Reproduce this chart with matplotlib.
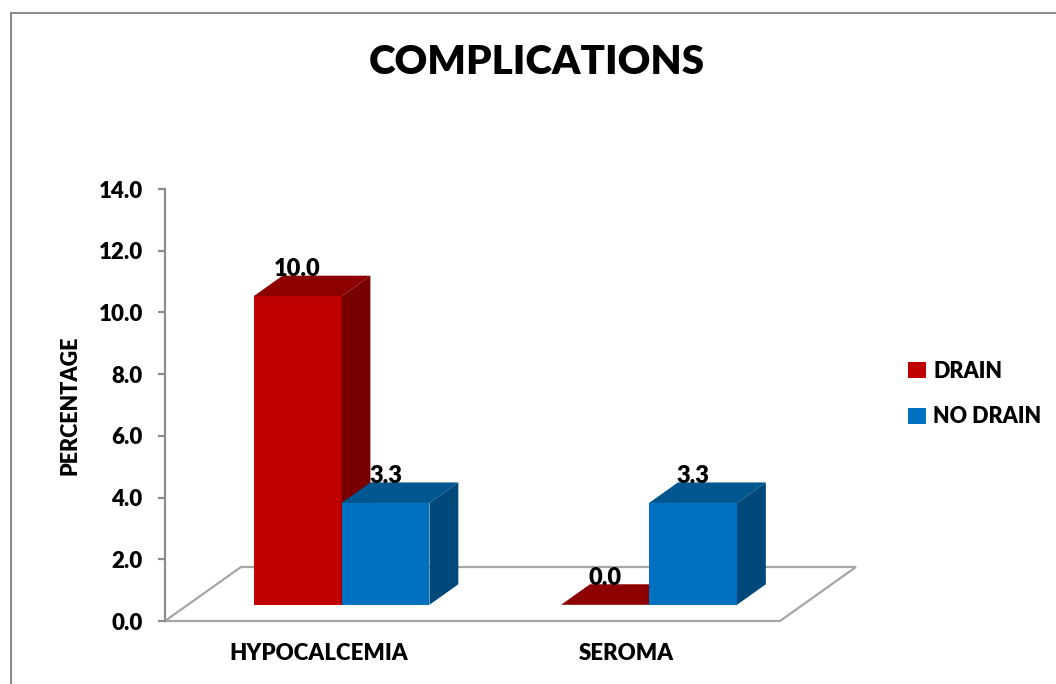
import matplotlib
matplotlib.use('Agg')
import matplotlib.pyplot as plt
from matplotlib.patches import Polygon, Rectangle, Patch

categories = ['HYPOCALCEMIA', 'SEROMA']
series_names = ['DRAIN', 'NO DRAIN']
drain = [10.0, 0.0]
no_drain = [3.3, 3.3]
y_ticks = [0, 2, 4, 6, 8, 10, 12, 14]

front_colors = ['#C00000', '#0070C0']
top_colors = ['#8E0000', '#00568F']
side_colors = ['#780000', '#00497A']
grey = '#8C8C8C'
wt = 'heavy'

plt.rcParams['font.family'] = ['Lato', 'DejaVu Sans']
plt.rcParams['font.weight'] = wt

W, H = 1056, 684
fig = plt.figure(figsize=(W / 100, H / 100), dpi=100)
ax = fig.add_axes([165 / W, 63 / H, 615 / W, 432 / H])
ax.set_xlim(0, 2)
ax.set_ylim(0, 14)

# fake 3d: depth vector of the floor in data units, bars sit between f0 and f1
depth_x, depth_y = 0.247, 1.75
f0, f1 = 0.3, 0.68
bar_w = 0.286

floor = Polygon([(0, 0), (2, 0), (2 + depth_x, depth_y), (depth_x, depth_y)],
                closed=True, facecolor='white', edgecolor='#A6A6A6', lw=1.6,
                clip_on=False, zorder=1)
ax.add_patch(floor)

bx, by = (f1 - f0) * depth_x, (f1 - f0) * depth_y
for i, cat in enumerate(categories):
    for s, vals in enumerate([drain, no_drain]):
        v = vals[i]
        x0 = i + 0.5 - bar_w + s * bar_w + f0 * depth_x
        x1 = x0 + bar_w
        base = f0 * depth_y
        top = base + v
        z = 2 + i * 3 + s
        if v > 0:
            ax.add_patch(Rectangle((x0, base), bar_w, v, facecolor=front_colors[s],
                                   edgecolor='none', clip_on=False, zorder=z))
            ax.add_patch(Polygon([(x1, base), (x1 + bx, base + by), (x1 + bx, top + by), (x1, top)],
                                 closed=True, facecolor=side_colors[s], edgecolor='none',
                                 clip_on=False, zorder=z))
        ax.add_patch(Polygon([(x0, top), (x1, top), (x1 + bx, top + by), (x0 + bx, top + by)],
                             closed=True, facecolor=top_colors[s], edgecolor='none',
                             clip_on=False, zorder=z))
        ax.text(x0 + bar_w / 2, top + 0.87, f'{v:.1f}', ha='center', va='center',
                fontsize=17, fontweight=wt, zorder=10)

for sp in ['top', 'right', 'bottom']:
    ax.spines[sp].set_visible(False)
ax.spines['left'].set_color(grey)
ax.spines['left'].set_linewidth(1.6)
ax.set_yticks(y_ticks, [f'{t:.1f}' for t in y_ticks])
ax.tick_params(axis='y', length=5, width=1.6, color=grey, pad=11, labelsize=16)
ax.set_xticks([0.5, 1.5], categories)
ax.tick_params(axis='x', length=0, pad=16, labelsize=16)
ax.patch.set_visible(False)

fig.text(70 / W, 1 - 405 / H, 'PERCENTAGE', rotation=90, ha='center', va='center',
         fontsize=15.5, fontweight=wt)
fig.text(537 / W, 1 - 63 / H, 'COMPLICATIONS', ha='center', va='center',
         fontsize=29, fontweight=wt)

handles = [Patch(facecolor=c, edgecolor='none') for c in front_colors]
fig.legend(handles, series_names, loc='center left', bbox_to_anchor=(889 / W, 1 - 394 / H),
           frameon=False, handlelength=0.8, handleheight=0.8, handletextpad=0.35,
           labelspacing=1.15, prop={'size': 15.5, 'weight': wt})

fig.add_artist(Rectangle((11 / W, -0.1), 1.2, 1 - 13 / H + 0.1, transform=fig.transFigure,
                         fill=False, edgecolor=grey, lw=1.5))

fig.savefig('out.png', dpi=100)
